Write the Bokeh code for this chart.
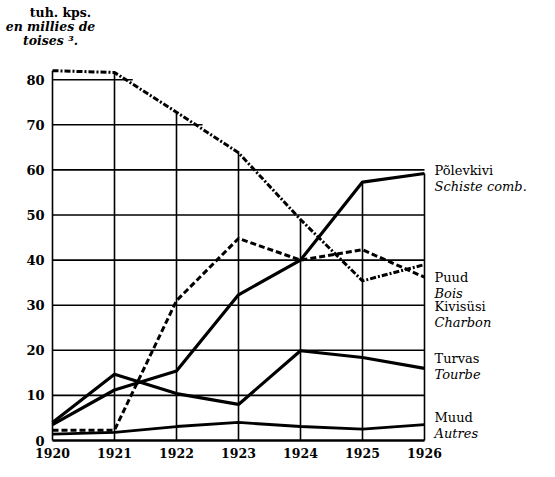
import numpy as np
from bokeh.plotting import figure
from bokeh.models import Range1d
from bokeh.core.properties import value
from bokeh.embed import file_html
from bokeh.resources import INLINE

# ---- data (thousand cubic fathoms) ----
years = [1920, 1921, 1922, 1923, 1924, 1925, 1926]
puud = [82.0, 81.6, 72.8, 63.8, 49.0, 35.4, 39.0]        # Bois (dash-dot)
kivisusi = [2.3, 2.3, 31.0, 44.8, 40.0, 42.3, 36.2]      # Charbon (dashed)
polevkivi = [3.5, 11.2, 15.4, 32.3, 40.0, 57.3, 59.2]    # Schiste comb.
turvas = [4.0, 14.7, 10.4, 8.0, 19.9, 18.4, 16.0]        # Tourbe
muud = [1.4, 1.8, 3.1, 4.0, 3.1, 2.5, 3.5]               # Autres
y_ticks = [0, 10, 20, 30, 40, 50, 60, 70, 80]
x_labels = ["1920", "1921", "1922", "1923", "1924", "1925", "1926"]
series_names = [("Põlevkivi", "Schiste comb."), ("Puud", "Bois"),
                ("Kivisüsi", "Charbon"), ("Turvas", "Tourbe"), ("Muud", "Autres")]
title_lines = ["tuh. kps.", "en millies de", "toises ³."]

# ---- layout (picture pixels) ----
W, H = 539, 461
X0, PXY = 52.0, 62.0          # px of 1920, px per year
Y0, PXV = 440.0, 4.51         # px of value 0, px per unit

def dx(px):
    return 1920 + (px - X0) / PXY

def dy(py):
    return (Y0 - py) / PXV

p = figure(width=W, height=H, output_backend="svg", toolbar_location=None,
           x_range=Range1d(dx(0), dx(W)), y_range=Range1d(dy(H), dy(0)),
           x_axis_location=None, y_axis_location=None, min_border=0)
p.outline_line_color = None
p.grid.visible = False
p.background_fill_color = "white"
p.border_fill_color = "white"

all_series = [puud, kivisusi, polevkivi, turvas, muud]

# envelope of all series for the grid extents
fine = np.linspace(years[0], years[-1], 2401)
env = np.max([np.interp(fine, years, s) for s in all_series], axis=0)

# vertical grid lines up to the envelope
for i, yr in enumerate(years):
    top = max(s[i] for s in all_series)
    p.segment(x0=[yr], y0=[0], x1=[yr], y1=[top], line_color="black", line_width=1.6)

# horizontal grid lines up to where the envelope falls below the level
for lv in y_ticks:
    ok = np.where(env >= lv - 1.0)[0]
    xe = fine[ok[-1]] if len(ok) else years[0]
    p.segment(x0=[years[0]], y0=[lv], x1=[xe], y1=[lv], line_color="black",
              line_width=1.6 if lv else 2.4)

# data lines
p.line(years, puud, line_color="black", line_width=3, line_dash="6 2 2 2")
p.line(years, kivisusi, line_color="black", line_width=3, line_dash="6 3")
p.line(years, polevkivi, line_color="black", line_width=3.2)
p.line(years, turvas, line_color="black", line_width=3.2)
p.line(years, muud, line_color="black", line_width=2.8)

# tick labels
p.text(x=[years[0]] * len(y_ticks), y=y_ticks, text=[str(v) for v in y_ticks],
       x_offset=-8, text_align="right", text_baseline="middle",
       text_font=value("DejaVu Serif"), text_font_style="bold",
       text_font_size="13px", text_color="black")
p.text(x=years, y=[0] * len(years), text=x_labels, y_offset=12,
       text_align="center", text_baseline="middle",
       text_font=value("DejaVu Serif"), text_font_style="bold",
       text_font_size="12.5px", text_color="black")

# title (unit)
title_px = [(60, 12), (50, 26), (50, 40)]
for (tx, ty), t, st in zip(title_px, title_lines, ["bold", "bold italic", "bold italic"]):
    p.text(x=[dx(tx)], y=[dy(ty)], text=[t], text_align="center",
           text_baseline="middle", text_font=value("DejaVu Serif"),
           text_font_style=st, text_font_size="12.5px", text_color="black")

# right-hand series labels: value level of the Estonian line
label_lv = [59.9, 36.2, 29.8, 18.2, 5.0]
for (et, fr), lv in zip(series_names, label_lv):
    p.text(x=[years[-1]], y=[lv], x_offset=10, text=[et], text_align="left",
           text_baseline="middle", text_font=value("DejaVu Serif"),
           text_font_style="normal", text_font_size="13px", text_color="black")
    p.text(x=[years[-1]], y=[lv], x_offset=10, y_offset=16, text=[fr],
           text_align="left", text_baseline="middle",
           text_font=value("DejaVu Serif"), text_font_style="italic",
           text_font_size="13px", text_color="black")

open("out.html", "w").write(file_html(p, INLINE))
